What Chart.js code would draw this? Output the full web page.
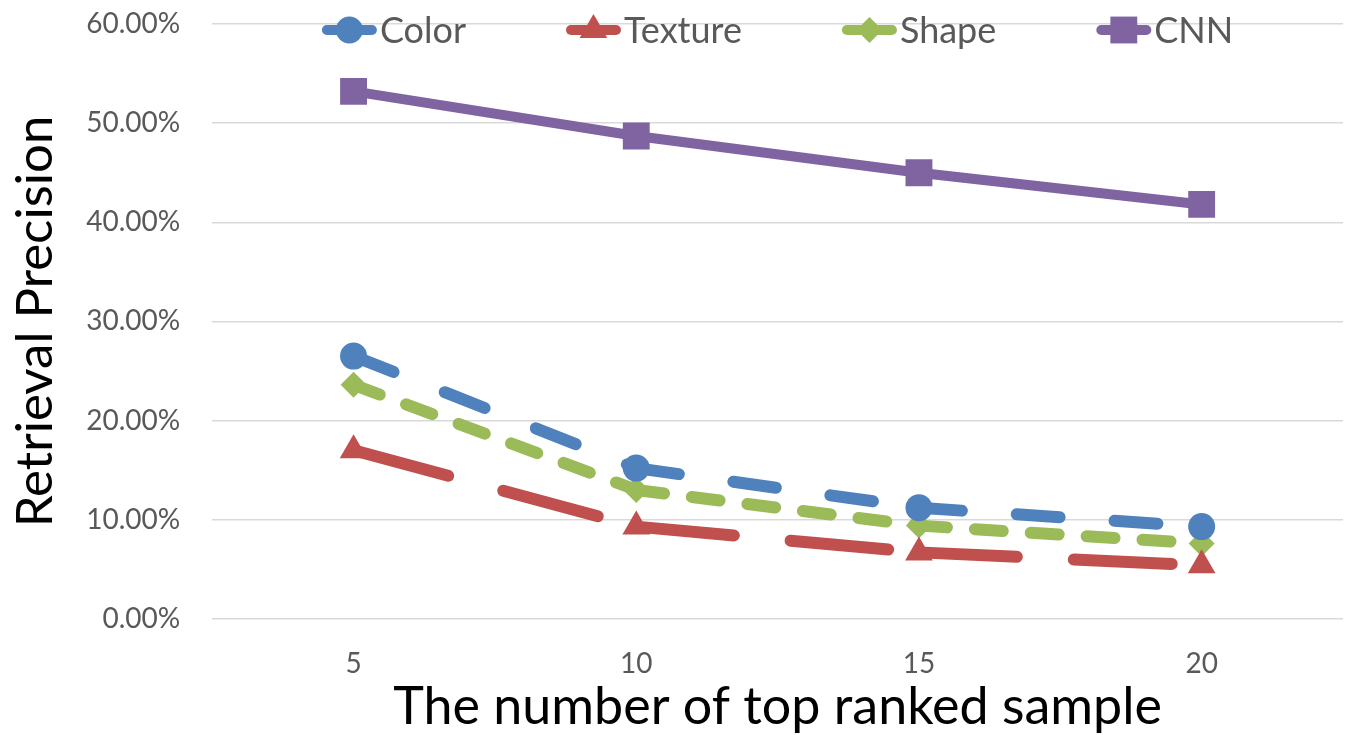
<!DOCTYPE html>
<html>
<head>
<meta charset="utf-8">
<script src="https://cdn.jsdelivr.net/npm/chart.js@4/dist/chart.umd.min.js"></script>
<style>
  html, body { margin: 0; padding: 0; background: #fff; }
  #wrap { width: 1347px; height: 735px; }
</style>
</head>
<body>
<div id="wrap"><canvas id="c" width="1347" height="735"></canvas></div>
<script>
// values (percent)
const categories = ["5", "10", "15", "20"];
const colorVals = [26.5, 15.2, 11.2, 9.3];
const textureVals = [17.0, 9.3, 6.7, 5.4];
const shapeVals = [23.6, 13.0, 9.4, 7.6];
const cnnVals = [53.2, 48.7, 45.0, 41.8];
const yTicks = [0, 10, 20, 30, 40, 50, 60];

const FONT = "Lato, 'Open Sans', sans-serif";
const GREY = "#595959";

// restart the dash pattern at each data point (like the original)
const restartDash = { borderDashOffset: (c) => (c.p0DataIndex % 2 ? 0.001 : 0) };

// legend drawn over the top of the plot: short line + marker + label
const overlayLegend = {
  id: "overlayLegend",
  afterDraw(chart) {
    const ctx = chart.ctx;
    const area = chart.chartArea;
    const sets = chart.data.datasets;
    const lineLen = 55, gap = 3, itemGap = 100, y = 30;
    ctx.save();
    ctx.font = "36px " + FONT;
    const widths = sets.map((d) => lineLen + gap + ctx.measureText(d.label).width);
    const total = widths.reduce((a, b) => a + b, 0) + itemGap * (sets.length - 1);
    let x = (area.left + area.right) / 2 - total / 2;
    sets.forEach((d, i) => {
      ctx.strokeStyle = d.borderColor;
      ctx.fillStyle = d.borderColor;
      ctx.lineWidth = 10;
      ctx.lineCap = "round";
      ctx.beginPath();
      ctx.moveTo(x + 5, y);
      ctx.lineTo(x + lineLen - 5, y);
      ctx.stroke();
      Chart.helpers.drawPoint(ctx, {
        pointStyle: d.pointStyle, radius: d.pointRadius, rotation: 0, borderWidth: 0
      }, x + lineLen / 2, y);
      ctx.fillStyle = GREY;
      ctx.textBaseline = "middle";
      ctx.textAlign = "left";
      ctx.fillText(d.label, x + lineLen + gap, y + 1);
      x += widths[i] + itemGap;
    });
    ctx.restore();
  }
};

new Chart(document.getElementById("c"), {
  type: "line",
  data: {
    labels: categories,
    datasets: [
      {
        label: "Color",
        data: colorVals,
        borderColor: "#4F81BD",
        backgroundColor: "#4F81BD",
        borderWidth: 12,
        borderDash: [43, 55],
        borderCapStyle: "round",
        pointStyle: "circle",
        pointRadius: 13.5,
        pointBorderWidth: 0,
        segment: restartDash,
      },
      {
        label: "Texture",
        data: textureVals,
        borderColor: "#C0504D",
        backgroundColor: "#C0504D",
        borderWidth: 12,
        borderDash: [98, 57],
        borderCapStyle: "round",
        pointStyle: "triangle",
        pointRadius: 16,
        pointBorderWidth: 0,
        segment: restartDash,
      },
      {
        label: "Shape",
        data: shapeVals,
        borderColor: "#9BBB59",
        backgroundColor: "#9BBB59",
        borderWidth: 12,
        borderDash: [28, 28],
        borderCapStyle: "round",
        pointStyle: "rectRot",
        pointRadius: 13,
        pointBorderWidth: 0,
        segment: restartDash,
      },
      {
        label: "CNN",
        data: cnnVals,
        borderColor: "#8064A2",
        backgroundColor: "#8064A2",
        borderWidth: 10,
        pointStyle: "rect",
        pointRadius: 19,
        pointBorderWidth: 0,
      },
    ],
  },
  options: {
    responsive: false,
    animation: false,
    layout: { autoPadding: false, padding: { left: 5, right: 4, top: 24, bottom: 0 } },
    plugins: {
      legend: { display: false },
      tooltip: { enabled: false },
    },
    scales: {
      x: {
        offset: true,
        // invisible tick marks give the gap between axis and labels
        grid: { display: false, drawTicks: true, tickLength: 28, tickColor: "transparent" },
        border: { display: false },
        ticks: { color: GREY, padding: 0, font: { family: FONT, size: 28 } },
        title: {
          display: true,
          text: "The number of top ranked sample",
          color: "#000",
          padding: { top: 0, bottom: 0 },
          font: { family: FONT, size: 52, lineHeight: 1.05 },
        },
      },
      y: {
        min: 0,
        max: 60,
        afterBuildTicks: (scale) => { scale.ticks = yTicks.map((v) => ({ value: v })); },
        grid: { color: "#D9D9D9", lineWidth: 1.5, drawTicks: true, tickLength: 30, tickColor: "transparent" },
        border: { display: false },
        ticks: {
          color: GREY,
          padding: 2,
          font: { family: FONT, size: 28 },
          callback: (v) => v.toFixed(2) + "%",
        },
        title: {
          display: true,
          text: "Retrieval Precision",
          color: "#000",
          padding: { top: 0, bottom: 18 },
          font: { family: FONT, size: 51, lineHeight: 1.2 },
        },
      },
    },
  },
  plugins: [overlayLegend],
});
</script>
</body>
</html>
